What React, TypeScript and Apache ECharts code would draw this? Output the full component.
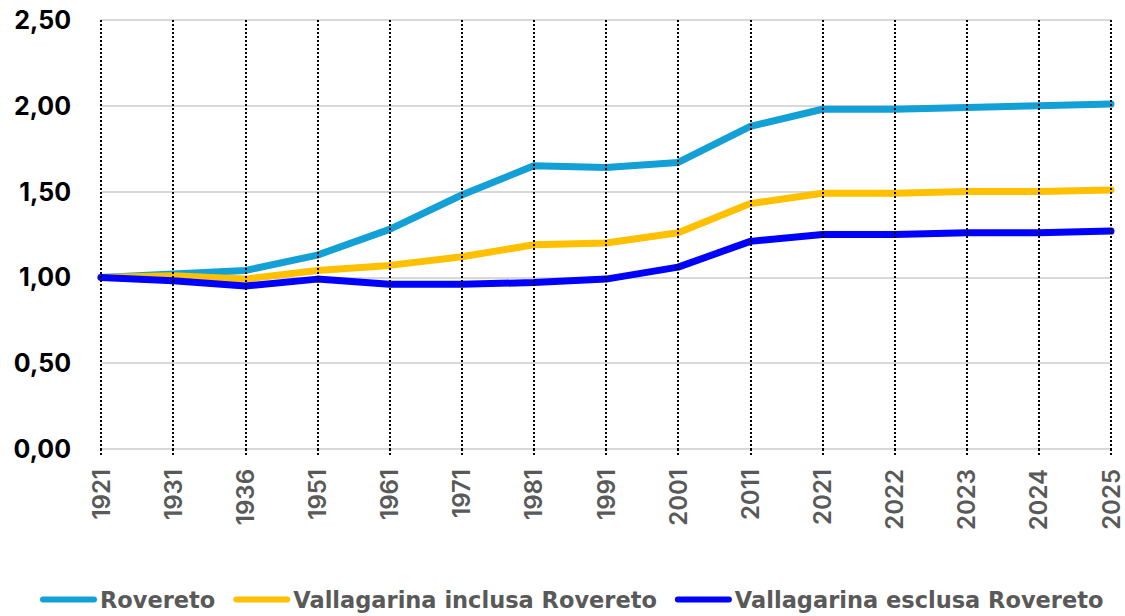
import React, { useEffect, useRef } from "react";
import * as echarts from "echarts";

const categories = ["1921", "1931", "1936", "1951", "1961", "1971", "1981", "1991", "2001", "2011", "2021", "2022", "2023", "2024", "2025"];
const rovereto = [1.0, 1.02, 1.04, 1.13, 1.28, 1.48, 1.65, 1.64, 1.67, 1.88, 1.98, 1.98, 1.99, 2.0, 2.01];
const vallagarinaInclusa = [1.0, 1.01, 0.99, 1.04, 1.07, 1.12, 1.19, 1.2, 1.26, 1.43, 1.49, 1.49, 1.5, 1.5, 1.51];
const vallagarinaEsclusa = [1.0, 0.98, 0.95, 0.99, 0.96, 0.96, 0.97, 0.99, 1.06, 1.21, 1.25, 1.25, 1.26, 1.26, 1.27];
const seriesNames = ["Rovereto", "Vallagarina inclusa Rovereto", "Vallagarina esclusa Rovereto"];
const colors = ["#12a0d7", "#ffc000", "#0000ff"];

const FONT = "Inter";
const LEGEND_FONT = "DejaVu Sans";
const capsule = "path://M3,0 L54,0 A3,3 0 0 1 54,6 L3,6 A3,3 0 0 1 3,0 Z";

export default function App() {
  const ref = useRef<HTMLDivElement>(null);
  useEffect(() => {
    if (!ref.current) return;
    const chart = echarts.init(ref.current, undefined, { renderer: "svg" });
    const datasets = [rovereto, vallagarinaInclusa, vallagarinaEsclusa];
    chart.setOption({
      animation: false,
      backgroundColor: "#ffffff",
      grid: { left: 101, right: 14, top: 20, bottom: 167, containLabel: false },
      legend: {
        top: 588,
        left: 40,
        width: 1085,
        padding: 0,
        icon: capsule,
        itemWidth: 57,
        itemHeight: 7,
        itemGap: 18,
        textStyle: { color: "#595959", fontSize: 22.5, fontWeight: 700, fontFamily: LEGEND_FONT, padding: [0, 0, 0, -2] },
        data: seriesNames,
      },
      xAxis: {
        type: "category",
        data: categories,
        boundaryGap: false,
        z: 10,
        axisLine: { show: false },
        axisTick: { show: true, length: 6, lineStyle: { color: "#000", width: 2, type: [2, 2] } },
        axisLabel: { rotate: 90, margin: 20, color: "#595959", fontSize: 24, fontWeight: 600, fontFamily: FONT, interval: 0 },
        splitLine: { show: true, interval: 0, lineStyle: { color: "#000", width: 2, type: [2, 2] } },
      },
      yAxis: {
        type: "value",
        min: 0,
        max: 2.5,
        interval: 0.5,
        axisLine: { show: false },
        axisTick: { show: false },
        axisLabel: {
          margin: 30,
          color: "#000",
          fontSize: 25,
          fontWeight: 700,
          fontFamily: FONT,
          formatter: (v: number) => v.toFixed(2).replace(".", ","),
        },
        splitLine: { show: true, lineStyle: { color: "#d9d9d9", width: 2 } },
      },
      series: datasets.map((d, i) => ({
        name: seriesNames[i],
        type: "line",
        data: d,
        symbol: "none",
        color: colors[i],
        lineStyle: { width: 7, color: colors[i], cap: "round", join: "round" },
      })),
    });
    return () => chart.dispose();
  }, []);
  return <div ref={ref} style={{ position: "absolute", left: 0, top: 0, width: 1125, height: 616 }} />;
}
